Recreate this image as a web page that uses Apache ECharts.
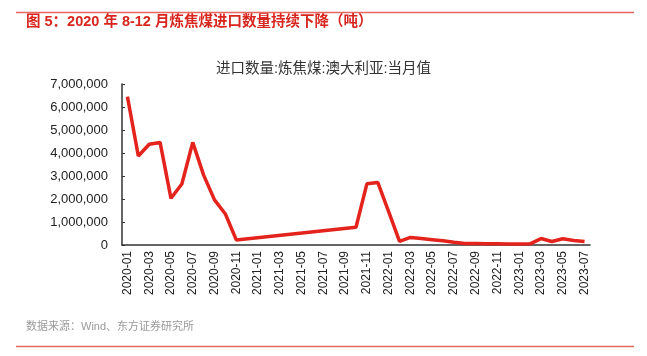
<!DOCTYPE html>
<html><head><meta charset="utf-8">
<script src="https://cdn.jsdelivr.net/npm/echarts@6/dist/echarts.min.js"></script>
<style>html,body{margin:0;padding:0;background:#fff}#c{width:647px;height:356px}</style>
</head><body><div id="c"></div>
<script>
const categories = (function(){const a=[];for(let y=2020;y<=2023;y++){for(let m=1;m<=12;m++){if(y===2023&&m>7)break;a.push(y+'-'+(m<10?'0':'')+m);}}return a;})();
// monthly values (tonnes); null = no data (line connects across)
const values2020 = [6450000,3870000,4380000,4460000,2030000,2650000,4460000,3040000,1960000,1350000,220000,null];
const values2021 = [null,null,null,null,null,null,null,null,null,770000,2660000,2720000];
const values2022 = [1450000,160000,330000,280000,230000,180000,120000,70000,60000,50000,50000,40000];
const values2023 = [40000,50000,280000,150000,270000,200000,150000];
const seriesValues = [].concat(values2020,values2021,values2022,values2023);
const yTicks = [0,1000000,2000000,3000000,4000000,5000000,6000000,7000000];
const chartTitle = '进口数量:炼焦煤:澳大利亚:当月值';
const headerText = '图 5：2020 年 8-12 月炼焦煤进口数量持续下降（吨）';
const sourceText = '数据来源：Wind、东方证券研究所';

const FF = '"Liberation Sans", Arial, "Noto Sans CJK SC", sans-serif';
const chart = echarts.init(document.getElementById('c'));
chart.setOption({
  animation:false,
  textStyle:{fontFamily:FF},
  title:{text:chartTitle,left:'center',top:57,textStyle:{fontSize:14.5,fontWeight:'normal',color:'#333',fontFamily:FF}},
  grid:{left:122,right:57,top:84,bottom:111},
  xAxis:{type:'category',data:categories,boundaryGap:true,
    axisLine:{lineStyle:{color:'#333',width:1.5}},
    axisTick:{inside:true,length:4,interval:1,lineStyle:{color:'#333'}},
    axisLabel:{rotate:90,interval:1,fontSize:12,color:'#222',margin:6,fontFamily:FF}},
  yAxis:{type:'value',min:yTicks[0],max:yTicks[yTicks.length-1],interval:1000000,
    splitLine:{show:false},
    axisLine:{show:true,lineStyle:{color:'#333',width:1.5}},
    axisTick:{show:true,inside:true,length:3,lineStyle:{color:'#333'}},
    axisLabel:{fontSize:13,color:'#222',margin:14,fontFamily:FF,formatter:v=>v.toLocaleString('en-US')}},
  series:[{type:'line',data:seriesValues,connectNulls:true,showSymbol:false,symbol:'none',
    lineStyle:{color:'#E3231C',width:3.5}}],
  graphic:[
    {type:'line',shape:{x1:16,y1:12.5,x2:634,y2:12.5},style:{stroke:'#E8675F',lineWidth:1.5}},
    {type:'text',left:26,top:15,style:{text:headerText,fill:'#D7261E',font:'bold 14.5px '+FF}},
    {type:'text',left:26,top:321,style:{text:sourceText,fill:'#9a9a9a',font:'11px '+FF}},
    {type:'line',shape:{x1:16,y1:346.5,x2:634,y2:346.5},style:{stroke:'#E8675F',lineWidth:1.5}}
  ]
});
</script></body></html>
